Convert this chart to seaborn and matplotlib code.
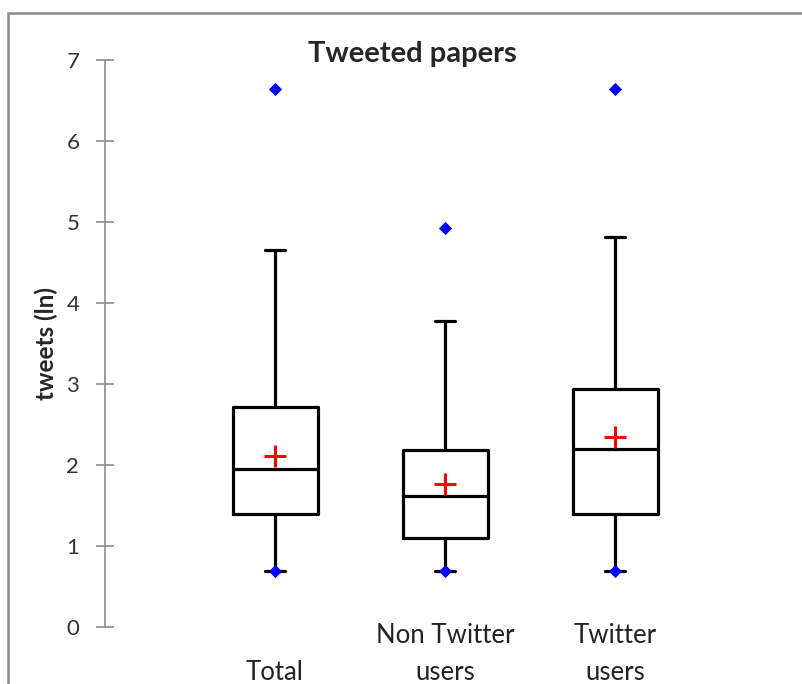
import matplotlib
matplotlib.use("Agg")
import matplotlib.pyplot as plt
from matplotlib.patches import Rectangle
import seaborn as sns
import pandas as pd

# Box plot summary values (tweets, ln scale)
groups = ['Total', 'Non Twitter\nusers', 'Twitter\nusers']
whisker_low = [0.69, 0.69, 0.69]
q1 = [1.40, 1.10, 1.39]
median = [1.95, 1.62, 2.20]
q3 = [2.72, 2.19, 2.94]
whisker_high = [4.65, 3.78, 4.82]
means = [2.11, 1.77, 2.35]
minimum = [0.69, 0.69, 0.69]
maximum = [6.64, 4.93, 6.64]

sns.set_style("white")
plt.rcParams['font.family'] = ['Lato', 'DejaVu Sans']

fig = plt.figure(figsize=(8.02, 6.84), dpi=100)
ax = fig.add_axes([105 / 802, 1 - 627 / 684, 680 / 802, 567 / 684])

stats = []
for i, g in enumerate(groups):
    stats.append({'label': g, 'whislo': whisker_low[i], 'q1': q1[i], 'med': median[i],
                  'q3': q3[i], 'whishi': whisker_high[i]})

line = dict(color='black', linewidth=2.3)
ax.bxp(stats, positions=range(len(groups)), widths=0.5, showfliers=False,
       boxprops=line, whiskerprops=line, capprops=line, medianprops=line,
       capwidths=0.12, manage_ticks=False)

# means (red +) and min / max (blue diamonds)
pts = pd.DataFrame({'x': list(range(len(groups))) * 3,
                    'y': means + minimum + maximum,
                    'kind': ['mean'] * 3 + ['min'] * 3 + ['max'] * 3})
sns.scatterplot(data=pts[pts.kind == 'mean'], x='x', y='y', marker='+', s=260,
                color='red', linewidth=2.2, ax=ax, zorder=5, legend=False)
sns.scatterplot(data=pts[pts.kind != 'mean'], x='x', y='y', marker='D', s=45,
                color='blue', edgecolor='blue', linewidth=0, ax=ax, zorder=5, legend=False)

ax.set_xlim(-1, 3)
ax.set_ylim(0, 7)
ax.set_yticks(range(8))
ax.set_xticks(range(len(groups)))
ax.set_xticklabels(['\nTotal', groups[1], groups[2]], fontsize=18.5, color='#222222',
                   linespacing=1.6)
ax.tick_params(axis='x', bottom=False, length=0, pad=-3)
ax.tick_params(axis='y', left=True, direction='inout', length=13, width=1.2, color='#8c8c8c',
               labelsize=16, labelcolor='#333333', pad=12)
ax.set_xlabel('')
ax.set_ylabel('tweets (ln)', fontsize=17.5, fontweight='bold')
ax.yaxis.set_label_coords((58 - 105) / 680, 0.5)

for s in ['top', 'right', 'bottom']:
    ax.spines[s].set_visible(False)
ax.spines['left'].set_color('#8c8c8c')
ax.spines['left'].set_linewidth(1.2)

fig.text(412 / 802, 1 - 54 / 684, 'Tweeted papers', fontsize=21, fontweight='bold',
         ha='center', va='center')

# chart area frame
fig.patches.append(Rectangle((8 / 802, -0.2), 1.2, 1.2 - 13 / 684, transform=fig.transFigure,
                             fill=False, edgecolor='#8a8a8a', linewidth=1.8))

fig.savefig('out.png', dpi=100)
